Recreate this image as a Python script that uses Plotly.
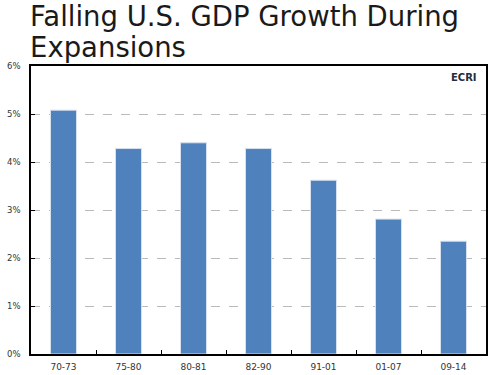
import plotly.graph_objects as go

categories = ["70-73", "75-80", "80-81", "82-90", "91-01", "01-07", "09-14"]
growth = [5.08, 4.28, 4.40, 4.28, 3.62, 2.81, 2.35]
y_ticks = [0, 1, 2, 3, 4, 5, 6]
y_labels = ["0%", "1%", "2%", "3%", "4%", "5%", "6%"]
title_lines = ["Falling U.S. GDP Growth During", "Expansions"]

W, H = 495, 375
L, R, T, B = 31, 9, 66, 21
PH = H - T - B
PW = W - L - R


def py(ypx):
    return (H - B - ypx) / PH


def px(xpx):
    return (xpx - L) / PW


fig = go.Figure()
fig.add_trace(go.Bar(
    x=categories, y=growth,
    marker=dict(color="#4F81BD", line=dict(color="#D6E0EE", width=1)),
    width=0.4,
))

annotations = []
for i, line in enumerate(title_lines):
    annotations.append(dict(
        text=line, x=px(28), y=py(16 + 31 * i), xref="paper", yref="paper",
        xanchor="left", yanchor="middle", align="left", showarrow=False,
        font=dict(family="DejaVu Sans", size=27.5, color="#1a1a1a"),
    ))
annotations.append(dict(
    text="<b>ECRI</b>", x=0.985, y=0.985, xref="paper", yref="paper",
    xanchor="right", yanchor="top", showarrow=False,
    font=dict(size=10, color="#1F2D3D", family="DejaVu Sans"),
))

fig.update_layout(
    template="none",
    width=W, height=H,
    margin=dict(l=L, r=R, t=T, b=B, pad=0),
    paper_bgcolor="white", plot_bgcolor="white",
    showlegend=False,
    font=dict(family="DejaVu Sans", color="#333333", size=9),
    xaxis=dict(
        type="category", automargin=False,
        showline=True, linecolor="black", linewidth=1.5, mirror=True,
        ticks="inside", tickson="boundaries", ticklen=4, tickcolor="black",
        tickfont=dict(size=9, color="#333333"), ticklabelstandoff=3,
        showgrid=False,
    ),
    yaxis=dict(
        range=[0, 6], tickvals=y_ticks, ticktext=y_labels, automargin=False,
        showline=True, linecolor="black", linewidth=1.5, mirror=True,
        ticks="inside", ticklen=4, tickcolor="black",
        showgrid=True, gridcolor="#BBBBBB", griddash="dash", gridwidth=1,
        zeroline=False, ticklabelstandoff=7,
        tickfont=dict(size=8.5, color="#333333"),
    ),
    annotations=annotations,
)

fig.write_html(
    "out.html",
    config={"displayModeBar": False},
    post_script="document.body.style.margin='0';document.body.style.overflow='hidden';",
)
